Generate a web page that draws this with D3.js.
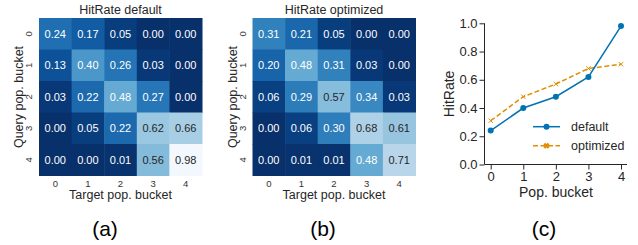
<!DOCTYPE html>
<html>
<head>
<meta charset="utf-8">
<script src="https://cdn.jsdelivr.net/npm/d3@7"></script>
<style>
  body { margin: 0; background: #fff; }
  svg { display: block; }
  text { font-family: "Liberation Sans", Arial, sans-serif; }
</style>
</head>
<body>
<svg id="chart" width="638" height="245"></svg>
<script>
// data
const buckets = [0, 1, 2, 3, 4];
const hitDefault = [
  [0.24, 0.17, 0.05, 0.00, 0.00],
  [0.13, 0.40, 0.26, 0.03, 0.00],
  [0.03, 0.22, 0.48, 0.27, 0.00],
  [0.00, 0.05, 0.22, 0.62, 0.66],
  [0.00, 0.00, 0.01, 0.56, 0.98]
];
const hitOptimized = [
  [0.31, 0.21, 0.05, 0.00, 0.00],
  [0.20, 0.48, 0.31, 0.03, 0.00],
  [0.06, 0.29, 0.57, 0.34, 0.03],
  [0.00, 0.06, 0.30, 0.68, 0.61],
  [0.00, 0.01, 0.01, 0.48, 0.71]
];
const lineDefault = [0.24, 0.40, 0.48, 0.62, 0.98];
const lineOptimized = [0.31, 0.48, 0.57, 0.68, 0.71];
const yTicks = [0.0, 0.2, 0.4, 0.6, 0.8, 1.0];
const captions = ["(a)", "(b)", "(c)"];

const svg = d3.select("#chart");
const color = v => d3.interpolateBlues(1 - v);

function heatmap(x0, title, matrix) {
  const x = d3.scaleBand().domain(buckets).range([x0, x0 + 163]);
  const y = d3.scaleBand().domain(buckets).range([18, 175.5]);
  const g = svg.append("g");

  matrix.forEach((row, i) => {
    row.forEach((v, j) => {
      g.append("rect")
        .attr("x", x(j)).attr("y", y(i))
        .attr("width", x.bandwidth() + 0.5).attr("height", y.bandwidth() + 0.5)
        .attr("fill", color(v));
      g.append("text")
        .attr("x", x(j) + x.bandwidth() / 2)
        .attr("y", y(i) + y.bandwidth() / 2)
        .attr("dy", "0.35em")
        .attr("text-anchor", "middle")
        .attr("font-size", 11)
        .attr("fill", v > 0.5 ? "#262626" : "#ffffff")
        .text(v.toFixed(2));
    });
  });

  // tick labels
  buckets.forEach(b => {
    g.append("text")
      .attr("x", x(b) + x.bandwidth() / 2).attr("y", 186.5)
      .attr("text-anchor", "middle").attr("font-size", 9.5).attr("fill", "#333")
      .text(b);
    g.append("text")
      .attr("transform", `translate(${x0 - 7},${y(b) + y.bandwidth() / 2}) rotate(-90)`)
      .attr("text-anchor", "middle").attr("font-size", 9.5).attr("fill", "#333")
      .text(b);
  });

  g.append("text")
    .attr("x", x0 + 81.5).attr("y", 14)
    .attr("text-anchor", "middle").attr("font-size", 12.5).attr("fill", "#262626")
    .text(title);
  g.append("text")
    .attr("x", x0 + 81.5).attr("y", 198.5)
    .attr("text-anchor", "middle").attr("font-size", 12.5).attr("fill", "#262626")
    .text("Target pop. bucket");
  g.append("text")
    .attr("transform", `translate(${x0 - 16},${97}) rotate(-90)`)
    .attr("text-anchor", "middle").attr("font-size", 12.5).attr("fill", "#262626")
    .text("Query pop. bucket");
}

heatmap(39, "HitRate default", hitDefault);
heatmap(252.5, "HitRate optimized", hitOptimized);

// line chart (c)
const x = d3.scaleLinear().domain([0, 4]).range([490.7, 621]);
const y = d3.scaleLinear().domain([0, 1]).range([164.5, 23.3]);
const lg = svg.append("g");

lg.append("g")
  .attr("transform", "translate(484.5,0)")
  .call(d3.axisLeft(y).tickValues(yTicks).tickFormat(d3.format(".1f")).tickSize(5).tickPadding(2))
  .call(g => g.selectAll("text").attr("font-size", 13).attr("fill", "#262626").attr("font-family", "Liberation Sans, Arial, sans-serif"))
  .call(g => g.selectAll("line, path").attr("stroke", "#262626"))
  .call(g => g.select(".domain").attr("d", `M0,${y(1)}V${y(0)}`));

lg.append("g")
  .attr("transform", "translate(0,164.5)")
  .call(d3.axisBottom(x).tickValues(buckets).tickFormat(d3.format("d")).tickSize(5).tickPadding(2))
  .call(g => g.selectAll("text").attr("font-size", 13).attr("fill", "#262626").attr("font-family", "Liberation Sans, Arial, sans-serif"))
  .call(g => g.selectAll("line, path").attr("stroke", "#262626"))
  .call(g => g.select(".domain").attr("d", `M484.5,0H627`));

lg.append("text")
  .attr("x", 556).attr("y", 196.5)
  .attr("text-anchor", "middle").attr("font-size", 14).attr("fill", "#262626")
  .text("Pop. bucket");
lg.append("text")
  .attr("transform", "translate(454,94) rotate(-90)")
  .attr("text-anchor", "middle").attr("font-size", 14).attr("fill", "#262626")
  .text("HitRate");

const blue = "#0173b2", orange = "#de8f05";
const line = d3.line().x((d, i) => x(buckets[i])).y(d => y(d));

lg.append("path").datum(lineOptimized)
  .attr("d", line).attr("fill", "none")
  .attr("stroke", orange).attr("stroke-width", 1.5).attr("stroke-dasharray", "5,2.5");
lg.selectAll(".xm").data(lineOptimized).join("path")
  .attr("d", d3.symbol(d3.symbolX, 14)())
  .attr("transform", (d, i) => `translate(${x(buckets[i])},${y(d)})`)
  .attr("stroke", orange).attr("stroke-width", 1).attr("fill", "none");

lg.append("path").datum(lineDefault)
  .attr("d", line).attr("fill", "none")
  .attr("stroke", blue).attr("stroke-width", 1.5);
lg.selectAll(".dm").data(lineDefault).join("circle")
  .attr("cx", (d, i) => x(buckets[i])).attr("cy", d => y(d))
  .attr("r", 3).attr("fill", blue);

// legend
const legend = [
  {label: "default", color: blue, dash: null, y: 126.7},
  {label: "optimized", color: orange, dash: "5,2.5", y: 145.7}
];
legend.forEach(l => {
  lg.append("line")
    .attr("x1", 533).attr("x2", 560).attr("y1", l.y).attr("y2", l.y)
    .attr("stroke", l.color).attr("stroke-width", 1.5)
    .attr("stroke-dasharray", l.dash);
  if (l.dash) {
    lg.append("path").attr("d", d3.symbol(d3.symbolX, 14)())
      .attr("transform", `translate(546.5,${l.y})`)
      .attr("stroke", l.color).attr("stroke-width", 2.5).attr("fill", "none");
  } else {
    lg.append("circle").attr("cx", 546.5).attr("cy", l.y).attr("r", 3).attr("fill", l.color);
  }
  lg.append("text")
    .attr("x", 571).attr("y", l.y).attr("dy", "0.35em")
    .attr("font-size", 12.5).attr("fill", "#262626")
    .text(l.label);
});

// captions
[105, 323, 544].forEach((cx, i) => {
  svg.append("text")
    .attr("x", cx).attr("y", 236)
    .attr("text-anchor", "middle")
    .attr("font-family", "Liberation Serif, Times New Roman, serif")
    .attr("font-size", 21).attr("fill", "#000")
    .text(captions[i]);
});
</script>
</body>
</html>
